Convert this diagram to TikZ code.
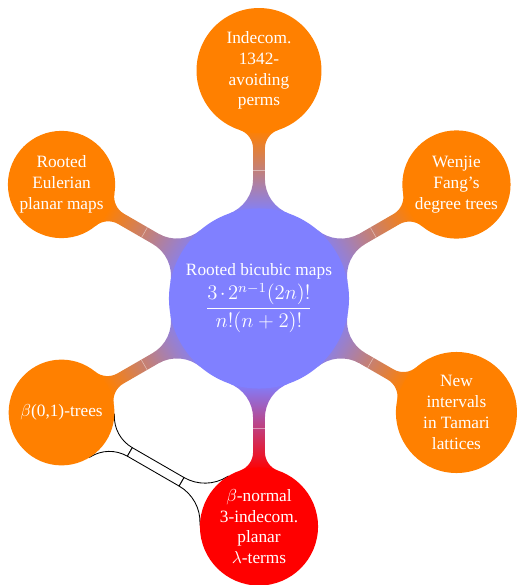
\documentclass[tikz,border=0pt]{standalone}
\usepackage{fontspec}
\setmainfont{Liberation Serif}
\usetikzlibrary{backgrounds}

\colorlet{rootcol}{blue!50}
\colorlet{leafcol}{orange}
\colorlet{hotcol}{red}

\tikzset{
  hub/.style={circle, fill=rootcol, text=white, inner sep=0pt,
    minimum size=3.66cm, align=center, font=\fontsize{10}{12}\selectfont},
  leaf/.style={circle, fill=leafcol, text=white, inner sep=0pt,
    align=center, font=\fontsize{10}{12}\selectfont},
  seam/.style={white, opacity=.45, line width=.35pt},
  tiebar/.style={draw=black, fill=white, line width=.5pt},
}

% Geometry of a filleted bar between two circles, in a frame whose
% x axis runs from the centre of the first circle to the second.
% #1 angle, #2 centre distance, #3/#4 radii, #5/#6 fillet radii, #7 half width
\newcommand\barsetup[7]{%
  \pgfmathsetmacro\bD{#2}\pgfmathsetmacro\bW{#7}%
  \pgfmathsetmacro\rA{#3}\pgfmathsetmacro\rB{#4}%
  \pgfmathsetmacro\fA{#5}\pgfmathsetmacro\fB{#6}%
  \pgfmathsetmacro\cA{sqrt((\rA+\fA)^2-(\bW+\fA)^2)}%
  \pgfmathsetmacro\cB{sqrt((\rB+\fB)^2-(\bW+\fB)^2)}%
  \pgfmathsetmacro\pA{atan2(\bW+\fA,\cA)}%
  \pgfmathsetmacro\pB{atan2(\bW+\fB,\cB)}%
  \pgfmathsetmacro\tAx{\rA/(\rA+\fA)*\cA}\pgfmathsetmacro\tAy{\rA/(\rA+\fA)*(\bW+\fA)}%
  \pgfmathsetmacro\tBx{\bD-\rB/(\rB+\fB)*\cB}\pgfmathsetmacro\tBy{\rB/(\rB+\fB)*(\bW+\fB)}%
  \pgfmathsetmacro\eB{\bD-\cB}%
}

% Shaded bridge from node #1 to node #2 (angle #3, distance #4,
% radii #5 and #6), colours #7 to #8
\newcommand\bridge[8]{%
  \barsetup{#3}{#4}{#5}{#6}{0.75}{0.4}{0.12}%
  \pgfmathsetmacro\shang{#3-90}%
  \begin{scope}[shift={(#1.center)}, rotate=#3]
    \shade[bottom color=#7, top color=#8, shading angle=\shang]
      (\tAx,\tAy) arc[start angle=180+\pA, end angle=270, radius=\fA]
      -- (\eB,\bW) arc[start angle=270, end angle=360-\pB, radius=\fB]
      -- (\tBx,-\tBy) arc[start angle=\pB, end angle=90, radius=\fB]
      -- (\cA,-\bW) arc[start angle=90, end angle=180-\pA, radius=\fA]
      -- cycle;
    \pgfmathsetmacro\mid{(\rA+\bD-\rB)/2}
    \draw[seam] (\mid,-\bW) -- (\mid,\bW);
  \end{scope}}

% Outlined white tie from node #1 to node #2
\newcommand\tie[6]{%
  \barsetup{#3}{#4}{#5}{#6}{0.73}{0.85}{0.1}%
  \begin{scope}[shift={(#1.center)}, rotate=#3]
    \draw[tiebar] (\tAx,\tAy) arc[start angle=180+\pA, end angle=270, radius=\fA]
      -- (\cA,-\bW) arc[start angle=90, end angle=180-\pA, radius=\fA] -- cycle;
    \draw[tiebar] (\cA,-\bW) rectangle (\eB,\bW);
    \draw[tiebar] (\eB,\bW) arc[start angle=270, end angle=360-\pB, radius=\fB]
      -- (\tBx,-\tBy) arc[start angle=\pB, end angle=90, radius=\fB] -- cycle;
  \end{scope}}

\begin{document}
\begin{tikzpicture}
\useasboundingbox (-5.264,-5.823) rectangle (5.244,6.067);

\node[hub] (root) at (0,0) {Rooted bicubic maps\\[1pt]
  {\fontsize{12}{14}\selectfont$\displaystyle\frac{3\mskip-2mu\cdot\mskip-2mu2^{n-1}(2n)!}{n!(n+2)!}$}};

\node[leaf, minimum size=2.54cm] (perms)    at (90:4.634)  {Indecom.\\1342-\\avoiding\\perms};
\node[leaf, minimum size=2.2cm]  (fang)     at (30:4.634)  {Wenjie\\Fang's\\degree trees};
\node[leaf, minimum size=2.46cm] (tamari)   at (-30:4.634) {New\\intervals\\in Tamari\\lattices};
\node[leaf, minimum size=2.4cm, fill=hotcol] (lambda) at (-90:4.634)
  {$\beta$-normal\\3-indecom.\\planar\\$\lambda$-terms};
\node[leaf, minimum size=2.15cm] (btrees)   at (210:4.634) {$\beta$(0,1)-trees};
\node[leaf, minimum size=2.18cm] (eulerian) at (150:4.634) {Rooted\\Eulerian\\planar maps};

\begin{scope}[on background layer]
  \bridge{root}{perms}{90}{4.634}{1.83}{1.27}{rootcol}{leafcol}
  \bridge{root}{fang}{30}{4.634}{1.83}{1.1}{rootcol}{leafcol}
  \bridge{root}{tamari}{-30}{4.634}{1.83}{1.23}{rootcol}{leafcol}
  \bridge{root}{lambda}{-90}{4.634}{1.83}{1.2}{rootcol}{hotcol}
  \bridge{root}{btrees}{210}{4.634}{1.83}{1.075}{rootcol}{leafcol}
  \bridge{root}{eulerian}{150}{4.634}{1.83}{1.09}{rootcol}{leafcol}
  \tie{btrees}{lambda}{-30}{4.634}{1.075}{1.2}
\end{scope}
\end{tikzpicture}
\end{document}
